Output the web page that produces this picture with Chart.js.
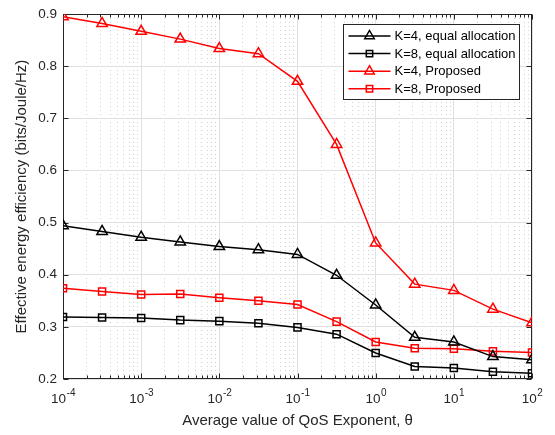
<!DOCTYPE html>
<html>
<head>
<meta charset="utf-8">
<script src="https://cdn.jsdelivr.net/npm/chart.js"></script>
<style>
  body { margin: 0; background: #fff; }
</style>
</head>
<body>
<canvas id="myChart" width="555" height="435"></canvas>
<script>
// Average QoS exponent (x axis), half-decade steps
const theta = [1e-4, 3.162e-4, 1e-3, 3.162e-3, 1e-2, 3.162e-2, 0.1, 0.3162, 1, 3.162, 10, 31.62, 100];

// Effective energy efficiency (bits/Joule/Hz)
const k4Equal    = [0.494, 0.483, 0.472, 0.463, 0.454, 0.448, 0.439, 0.399, 0.342, 0.280, 0.271, 0.243, 0.237];
const k8Equal    = [0.319, 0.318, 0.317, 0.313, 0.311, 0.307, 0.299, 0.286, 0.250, 0.224, 0.221, 0.214, 0.211];
const k4Proposed = [0.895, 0.882, 0.867, 0.852, 0.834, 0.824, 0.771, 0.650, 0.461, 0.382, 0.370, 0.334, 0.308];
const k8Proposed = [0.374, 0.368, 0.362, 0.363, 0.356, 0.350, 0.343, 0.310, 0.271, 0.259, 0.258, 0.253, 0.251];

const seriesLabels = ['K=4, equal allocation', 'K=8, equal allocation', 'K=4, Proposed', 'K=8, Proposed'];

// tick labels
const xMajorTicks = [1e-4, 1e-3, 1e-2, 1e-1, 1, 10, 100];
const xTickBase = '10';
const xTickExponents = ['-4', '-3', '-2', '-1', '0', '1', '2'];
const yTickLabels = ['0.2', '0.3', '0.4', '0.5', '0.6', '0.7', '0.8', '0.9'];

const FONT = "'Liberation Sans', Arial, 'DejaVu Sans', sans-serif";
const AXIS = '#262626';

// minor tick positions 2..9 x 10^e for the dotted grid
const xMinorTicks = [];
for (let e = -4; e < 2; e++) {
    for (let k = 2; k <= 9; k++) xMinorTicks.push(k * Math.pow(10, e));
}

function pairs(ys) {
    return ys.map((y, i) => ({ x: theta[i], y: y }));
}

// box around the plot + inward tick marks (MATLAB look)
const axesBox = {
    id: 'axesBox',
    beforeDatasetsDraw(chart) {
        const { ctx, chartArea: a, scales } = chart;
        ctx.save();
        ctx.strokeStyle = AXIS;
        ctx.lineWidth = 1;
        const L = Math.round(a.left) + 0.5, R = Math.round(a.right) - 0.5;
        const T = Math.round(a.top) + 0.5, B = Math.round(a.bottom) - 0.5;
        ctx.beginPath();
        scales.x.ticks.forEach(t => {
            const px = Math.round(scales.x.getPixelForValue(t.value)) + 0.5;
            ctx.moveTo(px, B); ctx.lineTo(px, B - 5);
            ctx.moveTo(px, T); ctx.lineTo(px, T + 5);
        });
        scales.xm.ticks.forEach(t => {
            const px = Math.round(scales.x.getPixelForValue(t.value)) + 0.5;
            ctx.moveTo(px, B); ctx.lineTo(px, B - 3);
            ctx.moveTo(px, T); ctx.lineTo(px, T + 3);
        });
        scales.y.ticks.forEach(t => {
            const py = Math.round(scales.y.getPixelForValue(t.value)) + 0.5;
            ctx.moveTo(L, py); ctx.lineTo(L + 5, py);
            ctx.moveTo(R, py); ctx.lineTo(R - 5, py);
        });
        ctx.stroke();
        ctx.strokeRect(L, T, R - L, B - T);

        // x tick labels as 10 with a raised exponent
        ctx.fillStyle = AXIS;
        ctx.textBaseline = 'alphabetic';
        scales.x.ticks.forEach((t, i) => {
            const px = scales.x.getPixelForValue(t.value);
            ctx.font = '13.5px ' + FONT;
            const wb = ctx.measureText(xTickBase).width;
            ctx.font = '10px ' + FONT;
            const we = ctx.measureText(xTickExponents[i]).width;
            const x0 = px - (wb + we) / 2;
            ctx.font = '13.5px ' + FONT;
            ctx.textAlign = 'left';
            ctx.fillText(xTickBase, x0, a.bottom + 24);
            ctx.font = '10px ' + FONT;
            ctx.fillText(xTickExponents[i], x0 + wb + 0.5, a.bottom + 17);
        });
        ctx.restore();
    }
};

function marker(ctx, style, r, x, y) {
    ctx.beginPath();
    if (style === 'triangle') {
        ctx.moveTo(x, y - r);
        ctx.lineTo(x + r * 0.866, y + r * 0.5);
        ctx.lineTo(x - r * 0.866, y + r * 0.5);
        ctx.closePath();
    } else {
        const s = r * Math.SQRT1_2;
        ctx.rect(x - s, y - s, 2 * s, 2 * s);
    }
    ctx.stroke();
}

// legend box in the top-right corner of the plot
const boxLegend = {
    id: 'boxLegend',
    afterDraw(chart) {
        const { ctx, chartArea: a } = chart;
        const w = 176, h = 75;
        const x0 = Math.round(a.right - 13 - w) + 0.5, y0 = Math.round(a.top + 10) + 0.5;
        ctx.save();
        ctx.fillStyle = '#fff';
        ctx.fillRect(x0, y0, w, h);
        ctx.strokeStyle = AXIS;
        ctx.lineWidth = 1;
        ctx.strokeRect(x0, y0, w, h);
        ctx.font = '13px ' + FONT;
        ctx.textBaseline = 'middle';
        chart.data.datasets.forEach((ds, i) => {
            const y = y0 + 11.5 + i * 17.6;
            ctx.strokeStyle = ds.borderColor;
            ctx.lineWidth = 1.5;
            ctx.beginPath();
            ctx.moveTo(x0 + 5, y); ctx.lineTo(x0 + 47, y);
            ctx.stroke();
            marker(ctx, ds.pointStyle, ds.pointStyle === 'triangle' ? 5.5 : 4.5, x0 + 26, y);
            ctx.fillStyle = '#000';
            ctx.fillText(ds.label, x0 + 51, y + 0.5);
        });
        ctx.restore();
    }
};

function makeSet(label, ys, color, style) {
    return {
        label: label,
        data: pairs(ys),
        borderColor: color,
        backgroundColor: color,
        borderWidth: 1.5,
        pointStyle: style,
        pointRadius: style === 'triangle' ? 6 : 5,
        pointBorderWidth: 1.5,
        pointBackgroundColor: 'rgba(0,0,0,0)',
        pointBorderColor: color,
        tension: 0
    };
}

const ctx = document.getElementById('myChart').getContext('2d');

const myChart = new Chart(ctx, {
    type: 'line',
    data: {
        datasets: [
            makeSet(seriesLabels[0], k4Equal, '#000000', 'triangle'),
            makeSet(seriesLabels[1], k8Equal, '#000000', 'rect'),
            makeSet(seriesLabels[2], k4Proposed, '#ff0000', 'triangle'),
            makeSet(seriesLabels[3], k8Proposed, '#ff0000', 'rect')
        ]
    },
    plugins: [axesBox, boxLegend],
    options: {
        responsive: false,
        animation: false,
        layout: { padding: { top: 10, right: 23, left: 0, bottom: 0 } },
        plugins: {
            legend: { display: false },
            tooltip: { enabled: false }
        },
        scales: {
            x: {
                type: 'logarithmic',
                position: 'bottom',
                min: 1e-4,
                max: 100,
                afterBuildTicks: s => { s.ticks = xMajorTicks.map(v => ({ value: v })); },
                afterFit: s => { s.height = 56; },
                grid: { color: '#e0e0e0', lineWidth: 1, drawTicks: false },
                border: { display: false },
                ticks: { display: false, autoSkip: false },
                title: {
                    display: true,
                    text: 'Average value of QoS Exponent, \u03B8',
                    color: AXIS,
                    font: { family: FONT, size: 15 },
                    padding: { top: 0, bottom: 5 }
                }
            },
            xm: {
                type: 'logarithmic',
                position: 'top',
                min: 1e-4,
                max: 100,
                afterBuildTicks: s => { s.ticks = xMinorTicks.map(v => ({ value: v })); },
                afterFit: s => { s.height = 0; },
                grid: { color: '#d2d2d2', lineWidth: 1, drawTicks: false },
                border: { display: false, dash: [1, 3] },
                ticks: { display: false }
            },
            y: {
                type: 'linear',
                min: 0.2,
                max: 0.9,
                afterFit: s => { s.width = 63; },
                grid: { color: '#e0e0e0', lineWidth: 1, drawTicks: false },
                border: { display: false },
                ticks: {
                    stepSize: 0.1,
                    padding: 6,
                    color: AXIS,
                    font: { family: FONT, size: 13.5 },
                    callback: (v, i) => yTickLabels[i]
                },
                title: {
                    display: true,
                    text: 'Effective energy efficiency (bits/Joule/Hz)',
                    color: AXIS,
                    font: { family: FONT, size: 15 },
                    padding: { top: 13, bottom: 0 }
                }
            }
        }
    }
});
</script>
</body>
</html>
